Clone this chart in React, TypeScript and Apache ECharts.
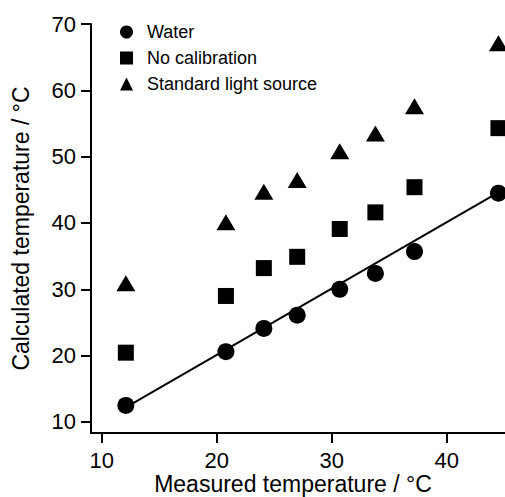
import React, { useEffect, useRef } from "react";
import * as echarts from "echarts";

const measured = [12.1, 20.8, 24.1, 27.0, 30.7, 33.8, 37.2, 44.5];
const water = [12.5, 20.6, 24.1, 26.1, 30.0, 32.4, 35.7, 44.5];
const noCalibration = [20.45, 29.0, 33.2, 34.9, 39.1, 41.6, 45.4, 54.3];
const standardLight = [30.9, 40.1, 44.7, 46.5, 50.8, 53.5, 57.6, 67.1];
const fitX = [12.1, 44.5];
const fitY = [12.2, 44.6];
const xTicks = [10, 20, 30, 40];
const yTicks = [10, 20, 30, 40, 50, 60, 70];
const seriesNames = ["Water", "No calibration", "Standard light source"];

const FONT = "'Liberation Sans', Arial, Helvetica, sans-serif";

export default function App() {
  const ref = useRef<HTMLDivElement>(null);
  useEffect(() => {
    if (!ref.current) return;
    const chart = echarts.init(ref.current, null, { renderer: "svg" });
    const pts = (ys: number[]) => measured.map((x, i) => [x, ys[i]]);
    const axisCommon = {
      type: "value" as const,
      nameLocation: "middle" as const,
      nameMoveOverlap: false,
      axisLine: { show: true, lineStyle: { color: "#000", width: 2 } },
      splitLine: { show: false },
    };
    chart.setOption({
      animation: false,
      backgroundColor: "#fff",
      textStyle: { fontFamily: FONT },
      grid: {
        left: 91,
        right: 0,
        top: 24,
        bottom: 64,
        containLabel: false,
        outerBoundsMode: "none",
      },
      legend: {
        orient: "vertical",
        left: 120,
        top: 23,
        padding: 0,
        itemWidth: 13,
        itemHeight: 13,
        itemGap: 8,
        data: seriesNames,
        textStyle: {
          fontFamily: FONT,
          fontSize: 18,
          lineHeight: 18,
          color: "#000",
          padding: [0, 0, 0, 9],
        },
      },
      xAxis: {
        ...axisCommon,
        min: 9.07,
        max: 45.07,
        name: "Measured temperature / °C",
        nameGap: 40,
        nameTextStyle: {
          fontFamily: FONT,
          fontSize: 23,
          lineHeight: 22,
          color: "#000",
          padding: [0, 10, 0, 0],
        },
        axisTick: {
          show: true,
          inside: false,
          length: 10,
          lineStyle: { color: "#000", width: 2 },
          customValues: xTicks,
        },
        axisLabel: {
          fontFamily: FONT,
          fontSize: 22,
          color: "#000",
          margin: 16,
          customValues: xTicks,
        },
      },
      yAxis: {
        ...axisCommon,
        min: 8.34,
        max: 70,
        name: "Calculated temperature / °C",
        nameGap: 59,
        nameRotate: 90,
        nameTextStyle: { fontFamily: FONT, fontSize: 23, color: "#000" },
        axisTick: {
          show: true,
          inside: false,
          length: 10,
          lineStyle: { color: "#000", width: 2 },
          customValues: yTicks,
        },
        axisLabel: {
          fontFamily: FONT,
          fontSize: 22,
          color: "#000",
          margin: 15,
          customValues: yTicks,
        },
      },
      series: [
        {
          name: "fit",
          type: "line",
          data: fitX.map((x, i) => [x, fitY[i]]),
          showSymbol: false,
          symbol: "none",
          lineStyle: { color: "#000", width: 2 },
          z: 1,
          silent: true,
        },
        {
          name: seriesNames[0],
          type: "scatter",
          symbol: "circle",
          symbolSize: 17,
          itemStyle: { color: "#000", opacity: 1 },
          data: pts(water),
          z: 3,
        },
        {
          name: seriesNames[1],
          type: "scatter",
          symbol: "rect",
          symbolSize: 16,
          itemStyle: { color: "#000", opacity: 1 },
          data: pts(noCalibration),
          z: 3,
        },
        {
          name: seriesNames[2],
          type: "scatter",
          symbol: "triangle",
          symbolSize: [19, 16],
          itemStyle: { color: "#000", opacity: 1 },
          data: pts(standardLight),
          z: 3,
        },
      ],
    });
    return () => chart.dispose();
  }, []);
  return (
    <div
      ref={ref}
      style={{ position: "fixed", left: 0, top: 0, width: 505, height: 497 }}
    />
  );
}
